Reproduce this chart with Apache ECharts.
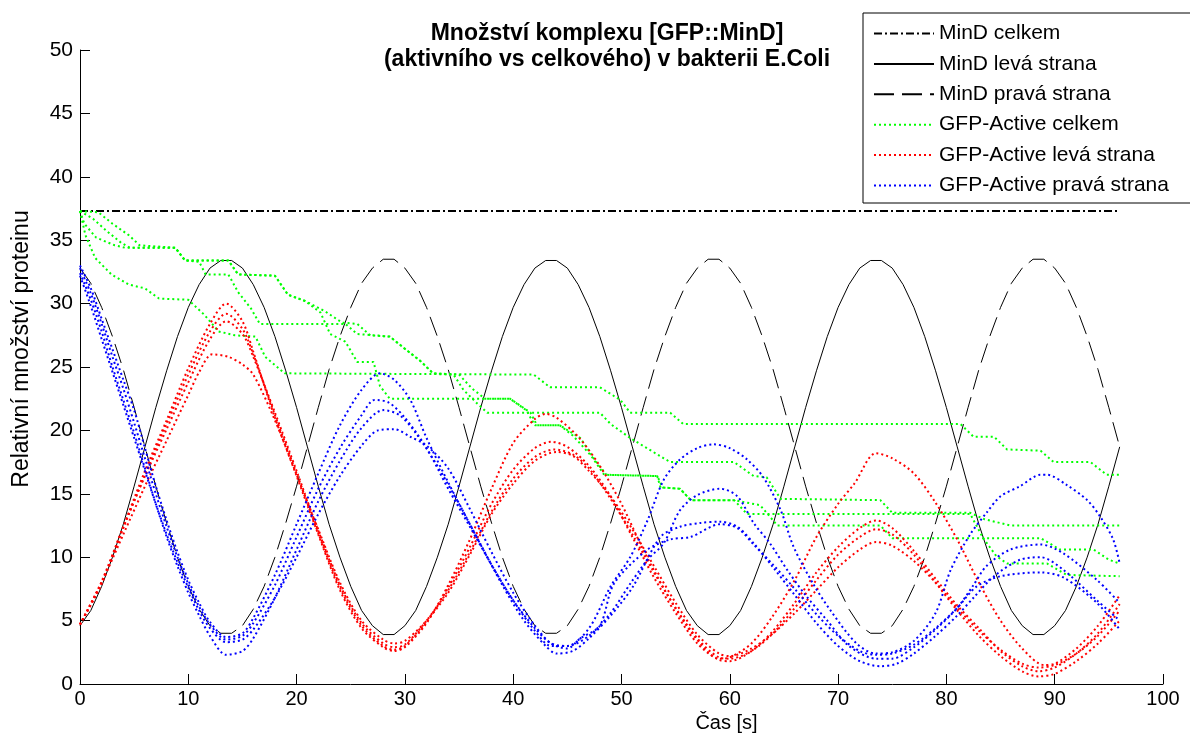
<!DOCTYPE html>
<html>
<head>
<meta charset="utf-8">
<title>Množství komplexu [GFP::MinD]</title>
<script src="https://cdn.jsdelivr.net/npm/echarts@6.0.0/dist/echarts.min.js"></script>
<style>
  html, body { margin: 0; padding: 0; background: #fff; }
  #chart { width: 1190px; height: 742px; }
</style>
</head>
<body>
<div id="chart"></div>
<script>
// čas simulace [s] pro MinD křivky
const mindTime = [
  0, 1, 2, 3, 4, 5, 6, 7, 8, 9, 10, 11, 12, 13, 14, 15, 16, 17, 18, 19,
  20, 21, 22, 23, 24, 25, 26, 27, 28, 29, 30, 31, 32, 33, 34, 35, 36, 37, 38, 39,
  40, 41, 42, 43, 44, 45, 46, 47, 48, 49, 50, 51, 52, 53, 54, 55, 56, 57, 58, 59,
  60, 61, 62, 63, 64, 65, 66, 67, 68, 69, 70, 71, 72, 73, 74, 75, 76, 77, 78, 79,
  80, 81, 82, 83, 84, 85, 86, 87, 88, 89, 90, 91, 92, 93, 94, 95, 96,
];
const mindTotalLevel = 37.3;
const mindTotalSpan = [0, 96];
const mindLeft = [
  4.6, 5.8, 7.7, 10.0, 12.6, 15.6, 18.7, 21.8, 24.7, 27.4, 29.7, 31.5, 32.8, 33.4, 33.4,
  32.8, 31.5, 29.7, 27.4, 24.7, 21.8, 18.7, 15.6, 12.6, 10.0, 7.7, 5.8, 4.6, 3.9, 3.9,
  4.6, 5.8, 7.7, 10.0, 12.6, 15.6, 18.7, 21.8, 24.7, 27.4, 29.7, 31.5, 32.8, 33.4, 33.4,
  32.8, 31.5, 29.7, 27.4, 24.7, 21.8, 18.7, 15.6, 12.6, 10.0, 7.7, 5.8, 4.6, 3.9, 3.9,
  4.6, 5.8, 7.7, 10.0, 12.6, 15.6, 18.7, 21.8, 24.7, 27.4, 29.7, 31.5, 32.8, 33.4, 33.4,
  32.8, 31.5, 29.7, 27.4, 24.7, 21.8, 18.7, 15.6, 12.6, 10.0, 7.7, 5.8, 4.6, 3.9, 3.9,
  4.6, 5.8, 7.7, 10.0, 12.6, 15.6, 18.7,
];
const mindRight = [
  32.8, 31.6, 29.7, 27.4, 24.8, 21.8, 18.7, 15.6, 12.7, 10.0, 7.7, 5.9, 4.6, 4.0, 4.0,
  4.6, 5.9, 7.7, 10.0, 12.7, 15.6, 18.7, 21.8, 24.8, 27.4, 29.7, 31.6, 32.8, 33.5, 33.5,
  32.8, 31.6, 29.7, 27.4, 24.8, 21.8, 18.7, 15.6, 12.7, 10.0, 7.7, 5.9, 4.6, 4.0, 4.0,
  4.6, 5.9, 7.7, 10.0, 12.7, 15.6, 18.7, 21.8, 24.8, 27.4, 29.7, 31.6, 32.8, 33.5, 33.5,
  32.8, 31.6, 29.7, 27.4, 24.8, 21.8, 18.7, 15.6, 12.7, 10.0, 7.7, 5.9, 4.6, 4.0, 4.0,
  4.6, 5.9, 7.7, 10.0, 12.7, 15.6, 18.7, 21.8, 24.8, 27.4, 29.7, 31.6, 32.8, 33.5, 33.5,
  32.8, 31.6, 29.7, 27.4, 24.8, 21.8, 18.7,
];

// GFP-Active celkem, 4 běhy [čas, množství]
const gfpTotalRun1 = [
  [0, 37.3], [0.5, 35.4], [1.4, 33.6], [2.9, 32.3], [4.5, 31.5], [6, 31.2], [7.3, 30.4],
  [10, 30.3], [11.5, 29.1], [12.8, 27.8], [14.3, 27.5], [16.2, 27.4], [17.1, 25.8],
  [18.9, 24.5], [41.9, 24.4], [43.4, 23.4], [48, 23.4], [49.9, 22.4], [50.8, 21.4],
  [54.5, 21.4], [55.7, 20.5], [81.3, 20.5], [82.5, 19.5], [84.4, 19.5], [85.6, 18.5],
  [88.7, 18.4], [89.9, 17.5], [93.3, 17.5], [94.8, 16.5], [96, 16.5],
];
const gfpTotalRun2 = [
  [0, 37.3], [1.7, 37.2], [3, 36.3], [4.5, 35.4], [5.5, 34.6], [8.8, 34.4], [9.7, 33.4],
  [13.7, 33.4], [14.6, 32.3], [18, 32.2], [19.2, 30.7], [20.8, 30.2], [22.6, 29.4],
  [24.2, 28.5], [25.6, 28.4], [26.8, 27.5], [28.6, 27.4], [30.2, 26.3], [31.4, 25.5],
  [32.6, 24.5], [34.5, 24.4], [35.4, 23.2], [36.7, 22.1], [37.6, 21.4], [48, 21.4],
  [49, 20.5], [50.8, 19.4], [53.9, 17.8], [54.5, 17.5], [60.4, 17.5], [62.2, 16.4],
  [63.4, 16.3], [64.7, 14.6], [73.9, 14.5], [75, 13.5], [82.2, 13.5], [83.5, 13],
  [85.9, 12.5], [96, 12.5],
];
const gfpTotalRun3 = [
  [0, 37.3], [0.4, 36.3], [1.5, 35.2], [3.2, 34.6], [4.2, 34.4], [8.8, 34.4], [9.7, 33.4],
  [11, 33.3], [11.6, 32.3], [13.7, 32.3], [14.6, 30.9], [15.8, 29.6], [16.6, 28.4],
  [24.5, 28.4], [25.6, 27.6], [28.6, 27.4], [30.2, 26.3], [31.4, 25.5], [32.6, 24.5],
  [35, 24.4], [36.2, 23.3], [37.4, 22.5], [39.7, 22.5], [41.6, 21.4], [42.2, 20.4],
  [44.3, 20.4], [46.2, 19.4], [47.6, 17.6], [48.6, 16.5], [53.3, 16.4], [53.8, 15.5],
  [55.4, 15.4], [56.4, 14.5], [60.4, 14.5], [62.8, 14.1], [64.4, 12.5], [73.9, 12.5],
  [75, 11.5], [88.7, 11.5], [90.5, 10.6], [93.6, 10.6], [95, 9.8], [96, 9.5],
];
const gfpTotalRun4 = [
  [0, 37.3], [1.2, 36.7], [2.5, 35.7], [3.8, 34.8], [4.6, 34.4], [8.8, 34.4], [9.7, 33.4],
  [13.7, 33.4], [14.6, 32.3], [18, 32.2], [19.2, 30.7], [20.8, 30.2], [22.2, 29.3],
  [23.1, 27.6], [24.5, 27], [25.6, 25.4], [27.1, 25.4], [27.7, 23.5], [28.6, 22.5],
  [39.7, 22.5], [41.2, 21.6], [42, 20.4], [44.3, 20.4], [45.5, 19.6], [47.2, 18],
  [48.4, 16.5], [53.3, 16.4], [53.6, 15.5], [55.4, 15.4], [56.4, 14.5], [60.4, 14.5],
  [61.6, 13.4], [82.2, 13.4], [83.4, 11.5], [84.6, 10.1], [85.6, 9.5], [89.3, 9.5],
  [91.1, 8.6], [96, 8.5],
];

// GFP-Active levá strana
const gfpLeftRun1 = [
  [0, 4.7], [2, 7.9], [4, 12.4], [6, 16.8], [8, 20.8], [10, 24.9], [12, 28.4], [13.5, 30.0],
  [15, 28.6], [16, 26.2], [18, 21.0], [20, 16.4], [22, 11.8], [24, 7.4], [26, 4.4], [28, 2.9],
  [29, 2.6], [30, 2.9], [32, 4.8], [34, 7.8], [36, 11.4], [38, 15.4], [40, 19.0], [42, 20.9],
  [43, 21.3], [44, 21.0], [46, 19.5], [48, 17.2], [50, 14.2], [52, 10.6], [54, 7.4], [56, 4.6],
  [58, 2.5], [59, 2.0], [60, 2.1], [62, 3.2], [64, 5.4], [66, 8.2], [68, 11.6], [70, 14.2],
  [71.5, 15.8], [73.5, 18.2], [75, 17.8], [77, 16.6], [79, 14.3], [81, 11.4], [83, 8.0],
  [85, 5.0], [87, 2.8], [89, 1.5], [90, 1.6], [92, 2.8], [94, 4.6], [96, 7.0],
];
const gfpLeftRun2 = [
  [0, 4.7], [2, 8.0], [4, 12.3], [6, 16.5], [8, 20.5], [10, 24.4], [12, 27.8], [13.5, 29.2],
  [15, 28.0], [16, 26.0], [18, 21.2], [20, 16.6], [22, 11.9], [24, 7.6], [26, 4.6], [28, 3.0],
  [29, 2.7], [30, 3.0], [32, 4.9], [34, 7.6], [36, 10.8], [38, 14.2], [40, 16.9], [42, 18.6],
  [43.5, 19.1], [45, 18.7], [47, 17.2], [49, 14.8], [51, 11.6], [53, 8.4], [55, 5.6], [57, 3.2],
  [59, 1.9], [60, 1.8], [62, 2.6], [64, 4.2], [66, 6.4], [68, 8.8], [70, 10.8], [72, 12.3],
  [73.5, 12.9], [75, 12.3], [77, 10.5], [79, 8.3], [81, 6.2], [83, 4.4], [85, 2.6], [87, 1.4],
  [88.5, 1.0], [90, 1.3], [92, 2.4], [94, 4.0], [96, 6.3],
];
const gfpLeftRun3 = [
  [0, 4.7], [2, 8.1], [4, 12.4], [6, 16.4], [8, 20.1], [10, 23.8], [12, 27.2], [13.5, 28.6],
  [15, 27.6], [16, 25.8], [18, 21.4], [20, 16.8], [22, 12.1], [24, 7.8], [26, 4.8], [28, 3.2],
  [29, 2.9], [30, 3.1], [32, 5.0], [34, 7.4], [36, 10.4], [38, 13.6], [40, 16.2], [42, 17.9],
  [43.8, 18.5], [45.5, 18.1], [47, 17.0], [49, 14.6], [51, 11.8], [53, 8.8], [55, 6.0],
  [57, 3.6], [59, 2.1], [60, 2.0], [62, 2.6], [64, 4.0], [66, 6.0], [68, 8.2], [70, 10.2],
  [72, 11.6], [73.5, 12.2], [75, 11.8], [77, 10.2], [79, 8.0], [81, 5.8], [83, 3.8], [85, 2.2],
  [87, 1.0], [88.5, 0.6], [90, 0.8], [92, 1.8], [94, 3.2], [96, 5.0],
];
const gfpLeftRun4 = [
  [0, 4.7], [2, 8.0], [4, 11.8], [6, 15.6], [8, 19.2], [10, 22.8], [11, 24.6], [12.2, 26.0],
  [13.7, 25.8], [15, 25.2], [16, 24.4], [18, 20.8], [20, 16.5], [22, 12.2], [24, 8.0], [26, 5.0],
  [28, 3.5], [29, 3.2], [30, 3.4], [32, 5.0], [34, 7.2], [36, 10.2], [38, 13.4], [40, 15.8],
  [42, 17.6], [44, 18.3], [45.5, 18.0], [47, 16.8], [49, 14.8], [51, 12.2], [53, 9.3], [55, 6.4],
  [57, 3.9], [59, 2.4], [60, 2.2], [62, 2.8], [64, 4.0], [66, 5.6], [68, 7.4], [70, 9.2],
  [72, 10.6], [73.5, 11.2], [75, 10.9], [77, 9.7], [79, 8.0], [81, 6.0], [83, 4.2], [85, 2.7],
  [87, 1.6], [88.5, 1.3], [90, 1.5], [92, 2.4], [94, 3.8], [96, 5.8],
];

// GFP-Active pravá strana
const gfpRightRun1 = [
  [0, 33.0], [1, 31.2], [2, 28.8], [3, 26.4], [4, 24.0], [5, 21.6], [6, 18.6], [7, 15.6],
  [8, 12.9], [9, 10.4], [10, 8.2], [11, 6.4], [12, 4.9], [13.5, 3.7], [15, 4.0], [16, 5.2],
  [18, 8.6], [20, 12.6], [22, 16.6], [24, 20.4], [26, 23.2], [27.7, 24.5], [29, 24.0],
  [30.5, 22.4], [32, 19.4], [34, 15.9], [36, 12.6], [38, 9.4], [40, 6.6], [42, 4.2],
  [43.5, 3.0], [45, 3.0], [47, 4.4], [49, 7.7], [50.8, 10.0], [52.4, 12.9], [53.9, 16.1],
  [55.4, 17.7], [57, 18.6], [58.5, 18.9], [60, 18.6], [61.6, 17.7], [63.1, 16.3], [64.7, 13.7],
  [65.9, 10.8], [67.7, 7.9], [69.3, 5.8], [71.7, 3.2], [73.5, 2.4], [75, 2.5], [77, 3.4],
  [79, 5.6], [80.4, 9.0], [82.2, 11.8], [83.7, 13.5], [85, 14.8], [86.8, 15.6], [88.7, 16.5],
  [89.3, 16.5], [91.1, 15.7], [93, 14.5], [94.2, 13.2], [95.4, 11.4], [96, 9.5],
];
const gfpRightRun2 = [
  [0, 32.8], [1, 30.8], [2, 28.4], [3, 25.8], [4, 23.3], [5, 20.6], [6, 17.8], [7, 15.0],
  [8, 12.4], [9, 10.0], [10, 7.9], [11, 6.1], [12, 4.7], [13.5, 3.5], [15, 3.8], [16, 4.8],
  [18, 7.8], [20, 11.6], [22, 15.4], [24, 18.6], [26, 21.2], [27.2, 22.4], [28.5, 22.2],
  [30, 21.0], [32, 18.6], [34, 15.4], [36, 12.4], [38, 9.4], [40, 6.6], [42, 4.4], [43.5, 3.2],
  [45, 3.0], [47, 3.8], [49, 5.6], [50.8, 7.9], [52.4, 9.8], [53.9, 11.1], [55.4, 13.7],
  [57, 14.9], [59.1, 15.4], [60.7, 14.8], [62.2, 12.7], [63.7, 11.1], [65.3, 9.0], [67, 7.0],
  [69, 5.0], [71, 3.0], [73.5, 2.0], [75, 2.0], [77, 2.9], [79, 4.3], [81, 6.0], [82.5, 7.8],
  [83.7, 9.3], [85.9, 10.6], [88.7, 11.0], [90.8, 10.3], [93.9, 8.2], [96, 6.4],
];
const gfpRightRun3 = [
  [0, 32.4], [1, 30.3], [2, 27.8], [3, 25.0], [4, 22.4], [5, 19.8], [6, 17.0], [7, 14.2],
  [8, 11.6], [9, 9.3], [10, 7.2], [11, 5.4], [12, 3.8], [13.5, 2.3], [15, 2.6], [16, 3.6],
  [18, 6.8], [20, 10.6], [22, 14.4], [24, 17.6], [26, 20.2], [28, 21.6], [29.5, 21.2],
  [31, 19.8], [33, 17.2], [35, 14.2], [37, 11.0], [39, 7.8], [41, 5.0], [43, 3.0], [44, 2.4],
  [45.5, 2.6], [47, 3.6], [49, 5.4], [51, 7.6], [53.6, 11.6], [55.4, 12.4], [57.3, 12.7],
  [59.1, 12.8], [60.7, 12.4], [62.2, 11.1], [64, 9.2], [66, 7.0], [68, 4.8], [70, 3.0],
  [72, 1.8], [73.9, 1.4], [75.4, 1.6], [77, 2.4], [79, 3.8], [81, 5.4], [82.5, 6.8], [84.4, 8.5],
  [86.8, 9.8], [88.7, 10.0], [90.8, 9.0], [93.9, 6.6], [96, 5.0],
];
const gfpRightRun4 = [
  [0, 32.2], [1, 29.8], [2, 27.2], [3, 24.6], [4, 22.0], [5, 19.4], [6, 16.8], [7, 14.2],
  [8, 11.8], [9, 9.6], [10, 7.6], [11, 5.8], [12, 4.4], [13.5, 3.3], [15, 3.5], [16, 4.3],
  [18, 6.8], [20, 10.0], [22, 13.4], [24, 16.4], [26, 18.8], [27.5, 20.0], [29, 20.1],
  [30.5, 19.5], [32, 18.8], [34, 17.0], [36, 13.8], [38, 10.4], [40, 7.2], [42, 4.6],
  [43.5, 3.2], [45, 2.8], [46.2, 3.6], [48, 4.6], [49.3, 7.9], [52.4, 10.6], [54.5, 11.4],
  [56.4, 11.6], [59.1, 12.6], [60.7, 12.3], [62.2, 11.0], [64, 9.4], [66, 7.5], [68, 5.5],
  [70, 3.8], [72, 2.6], [73.5, 2.3], [75, 2.4], [77, 3.1], [79, 4.4], [81, 6.0], [82.8, 7.7],
  [85, 8.5], [88.7, 8.8], [90.8, 8.4], [93.9, 6.4], [96, 4.3],
];

const FONT = '"Liberation Sans", Arial, sans-serif';
const DOTTED = [2, 3];

function lineSeries(name, data, color, dash, width, smooth) {
  return {
    name: name,
    type: "line",
    data: data,
    symbol: "none",
    smooth: smooth || false,
    silent: true,
    animation: false,
    lineStyle: { color: color, width: width, type: dash },
    itemStyle: { color: color },
  };
}

function getChartOption() {
  const mindLeftData = mindTime.map((t, i) => [t, mindLeft[i]]);
  const mindRightData = mindTime.map((t, i) => [t, mindRight[i]]);
  const mindTotalData = mindTotalSpan.map((t) => [t, mindTotalLevel]);

  const series = [
    lineSeries("MinD celkem", mindTotalData, "#000", [8, 3, 2, 3], 2),
    lineSeries("MinD levá strana", mindLeftData, "#000", "solid", 1),
    lineSeries("MinD pravá strana", mindRightData, "#000", [20, 8], 1),
  ];
  [gfpTotalRun1, gfpTotalRun2, gfpTotalRun3, gfpTotalRun4].forEach((run) =>
    series.push(lineSeries("GFP-Active celkem", run, "#00ff00", DOTTED, 2))
  );
  [gfpLeftRun1, gfpLeftRun2, gfpLeftRun3, gfpLeftRun4].forEach((run) =>
    series.push(lineSeries("GFP-Active levá strana", run, "#ff0000", DOTTED, 2, 0.3))
  );
  [gfpRightRun1, gfpRightRun2, gfpRightRun3, gfpRightRun4].forEach((run) =>
    series.push(lineSeries("GFP-Active pravá strana", run, "#0000ff", DOTTED, 2, 0.3))
  );

  // MATLAB "box off": osy jen vlevo a dole, ticky dovnitř
  const tick = { show: true, inside: true, length: 10, lineStyle: { color: "#000" } };
  const axisLine = { show: true, onZero: false, lineStyle: { color: "#000", width: 1 } };

  return {
    animation: false,
    backgroundColor: "#fff",
    textStyle: { fontFamily: FONT, color: "#000" },
    title: {
      text: "Množství komplexu [GFP::MinD]\n(aktivního vs celkového) v bakterii E.Coli",
      left: 602,
      top: 16,
      textAlign: "center",
      textStyle: {
        fontFamily: FONT,
        fontSize: 23,
        fontWeight: "bold",
        lineHeight: 26,
        color: "#000",
      },
    },
    legend: {
      orient: "vertical",
      left: 863,
      top: 13,
      padding: [10, 200, 7, 10],
      itemGap: 9.4,
      itemWidth: 60,
      itemHeight: 14,
      borderColor: "#000",
      borderWidth: 1,
      backgroundColor: "#fff",
      itemStyle: { opacity: 0, borderWidth: 0 },
      textStyle: { fontFamily: FONT, fontSize: 21, color: "#000" },
      data: [
        "MinD celkem",
        "MinD levá strana",
        "MinD pravá strana",
        "GFP-Active celkem",
        "GFP-Active levá strana",
        "GFP-Active pravá strana",
      ],
    },
    grid: { left: 80, top: 50, right: 27, bottom: 58, containLabel: false },
    xAxis: {
      type: "value",
      min: 0,
      max: 100,
      interval: 10,
      name: "Čas [s]",
      nameLocation: "middle",
      nameGap: 27,
      nameTextStyle: { fontFamily: FONT, fontSize: 20, color: "#000", padding: [0, 0, 0, 210] },
      axisLine: axisLine,
      axisTick: tick,
      axisLabel: { fontFamily: FONT, fontSize: 20, color: "#000", margin: 5 },
      splitLine: { show: false },
    },
    yAxis: {
      type: "value",
      min: 0,
      max: 50,
      interval: 5,
      name: "Relativní množství proteinu",
      nameLocation: "middle",
      nameGap: 47,
      nameTextStyle: { fontFamily: FONT, fontSize: 23, color: "#000", padding: [0, 0, 0, 36] },
      axisLine: axisLine,
      axisTick: tick,
      axisLabel: { fontFamily: FONT, fontSize: 21, color: "#000", margin: 7 },
      splitLine: { show: false },
    },
    series: series,
  };
}

const chart = echarts.init(document.getElementById("chart"), null, { renderer: "canvas" });
chart.setOption(getChartOption());
</script>
</body>
</html>
